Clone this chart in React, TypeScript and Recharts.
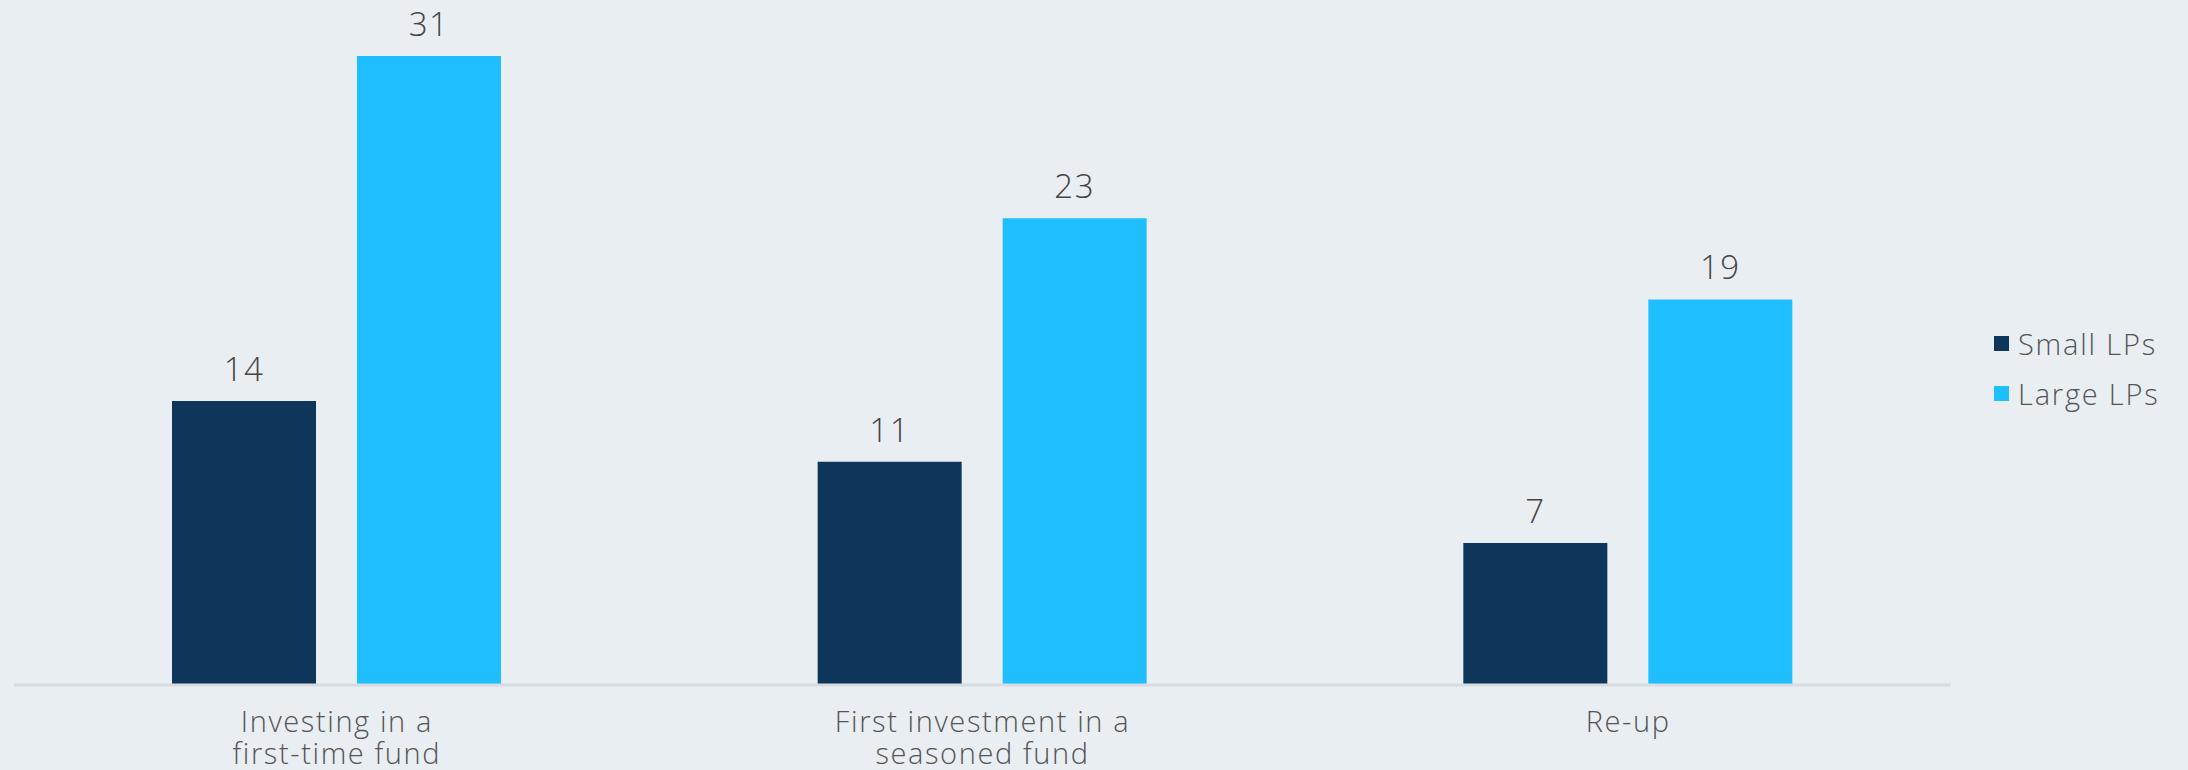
import { Bar, BarChart, LabelList, XAxis, YAxis } from "recharts";

const categories = ["Investing in a\nfirst-time fund", "First investment in a\nseasoned fund", "Re-up"];
const smallLPs = [14, 11, 7];
const largeLPs = [31, 23, 19];
const seriesNames = ["Small LPs", "Large LPs"];
const seriesColors = ["#0D365A", "#1FBFFF"];

const data = categories.map((name, i) => ({ name, small: smallLPs[i], large: largeLPs[i] }));

const FONT = "'Open Sans', Lato, sans-serif";
const BG = "#E9EEF2";

function CategoryTick({ x, y, payload }: any) {
  const lines = String(payload.value).split("\n");
  return (
    <g>
      {lines.map((line, i) => (
        <text
          key={i}
          x={x}
          y={y + 39 + i * 32}
          textAnchor="middle"
          fontFamily={FONT}
          fontWeight={300}
          fontSize={29}
          letterSpacing={1.6}
          fill="#555"
        >
          {line}
        </text>
      ))}
    </g>
  );
}

function LegendBox() {
  return (
    <div
      style={{
        position: "absolute",
        left: 1994,
        top: 318,
        fontFamily: FONT,
        fontWeight: 300,
        fontSize: 29,
        letterSpacing: 1.8,
        color: "#555",
      }}
    >
      {seriesNames.map((label, i) => (
        <div key={label} style={{ display: "flex", alignItems: "center", height: 50 }}>
          <span style={{ width: 15, height: 15, background: seriesColors[i], marginRight: 9, display: "inline-block" }} />
          <span>{label}</span>
        </div>
      ))}
    </div>
  );
}

export default function App() {
  return (
    <div style={{ position: "absolute", left: 0, top: 0, width: 2188, height: 770, background: BG }}>
      <BarChart
        width={2188}
        height={770}
        data={data}
        margin={{ top: 56, right: 237, bottom: 0, left: 14 }}
        barSize={144}
        barGap={41}
      >
        <XAxis
          dataKey="name"
          height={85}
          tickLine={false}
          axisLine={{ stroke: "#D8DCE0", strokeWidth: 3 }}
          tick={<CategoryTick />}
          interval={0}
        />
        <YAxis hide domain={[0, 31]} />
        <Bar dataKey="small" name={seriesNames[0]} fill={seriesColors[0]} isAnimationActive={false}>
          <LabelList dataKey="small" position="top" offset={20} fill="#444" fontSize={33} letterSpacing={1.5} fontWeight={300} fontFamily={FONT} />
        </Bar>
        <Bar dataKey="large" name={seriesNames[1]} fill={seriesColors[1]} isAnimationActive={false}>
          <LabelList dataKey="large" position="top" offset={20} fill="#444" fontSize={33} letterSpacing={1.5} fontWeight={300} fontFamily={FONT} />
        </Bar>
      </BarChart>
      <LegendBox />
    </div>
  );
}
